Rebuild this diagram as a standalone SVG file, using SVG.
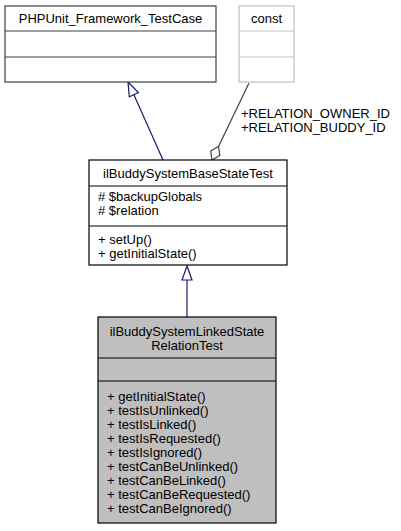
<svg xmlns="http://www.w3.org/2000/svg" width="401" height="531" viewBox="0 0 401 531">
<style>
text{font-family:"Liberation Sans",Arial,Helvetica,sans-serif;font-size:13px;fill:#000}
.c{text-anchor:middle}
.box{fill:#fff;stroke:#000;stroke-width:1.2}
.dark{stroke:#404040}
.light{stroke:#bfbfbf}
.cur{fill:#bfbfbf;stroke:#000;stroke-width:1.2}
.inh{stroke:#191970;stroke-width:1.2;fill:none}
.inhHead{stroke:#191970;stroke-width:1.2;fill:#fff}
.comp{stroke:#404040;stroke-width:1.2;fill:none}
.compHead{stroke:#404040;stroke-width:1.2;fill:#fff}
</style>
<rect width="401" height="531" fill="#fff"/>
<g id="connectors">
<line class="inh" x1="163" y1="160" x2="133.9" y2="94.7"/>
<polygon class="inhHead" points="128,82 138.4,92.6 129.3,96.8"/>
<line class="inh" x1="187" y1="317" x2="187" y2="280"/>
<polygon class="inhHead" points="187,266 192,280 182,280"/>
<line class="comp" x1="249" y1="83" x2="218.5" y2="146.5"/>
<polygon class="compHead" points="212,160 210.7,151.1 218.5,146.5 219.8,155.4"/>
<text x="241" y="117.5">+RELATION_OWNER_ID</text>
<text x="241" y="131.5">+RELATION_BUDDY_ID</text>
</g>
<g id="node-phpunit">
<rect class="box dark" x="5" y="6" width="211" height="76"/>
<line class="box dark" x1="5" y1="31" x2="216" y2="31"/>
<line class="box dark" x1="5" y1="57" x2="216" y2="57"/>
<text class="c" x="110.5" y="22.5">PHPUnit_Framework_TestCase</text>
</g>
<g id="node-const">
<rect class="box light" x="239" y="6" width="55" height="76"/>
<line class="box light" x1="239" y1="31" x2="294" y2="31"/>
<line class="box light" x1="239" y1="57" x2="294" y2="57"/>
<text class="c" x="266.5" y="22.5">const</text>
</g>
<g id="node-base">
<rect class="box" x="89" y="160" width="198" height="105"/>
<line class="box" x1="89" y1="186" x2="287" y2="186"/>
<line class="box" x1="89" y1="226" x2="287" y2="226"/>
<text class="c" x="188" y="178">ilBuddySystemBaseStateTest</text>
<text x="98" y="201">#&#160;$backupGlobals</text>
<text x="98" y="215">#&#160;$relation</text>
<text x="98" y="244">+&#160;setUp()</text>
<text x="98" y="258">+&#160;getInitialState()</text>
</g>
<g id="node-linked">
<rect class="cur" x="98" y="317" width="178" height="206"/>
<line class="cur" x1="98" y1="358" x2="276" y2="358"/>
<line class="cur" x1="98" y1="381" x2="276" y2="381"/>
<text class="c" x="187" y="336">ilBuddySystemLinkedState</text>
<text class="c" x="187" y="350">RelationTest</text>
<text x="107" y="401">+&#160;getInitialState()</text>
<text x="107" y="415">+&#160;testIsUnlinked()</text>
<text x="107" y="429">+&#160;testIsLinked()</text>
<text x="107" y="443">+&#160;testIsRequested()</text>
<text x="107" y="457">+&#160;testIsIgnored()</text>
<text x="107" y="471">+&#160;testCanBeUnlinked()</text>
<text x="107" y="485">+&#160;testCanBeLinked()</text>
<text x="107" y="499">+&#160;testCanBeRequested()</text>
<text x="107" y="513">+&#160;testCanBeIgnored()</text>
</g>
</svg>
